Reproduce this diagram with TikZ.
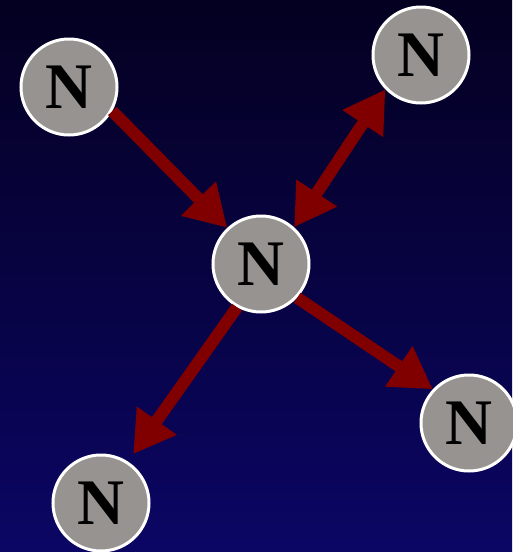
\documentclass[tikz,border=0pt]{standalone}
\usepackage{fontspec}
\setmainfont{Liberation Serif}
\usetikzlibrary{arrows.meta}
\definecolor{bgtop}{HTML}{040020}
\definecolor{bgbottom}{HTML}{0B0664}
\definecolor{nodegray}{HTML}{969391}
\definecolor{arrowred}{HTML}{800000}
\tikzset{
  nnode/.style={circle,fill=nodegray,draw=white,line width=3pt,minimum size=96pt,inner sep=0pt,
    font=\fontsize{65}{65}\selectfont\bfseries},
  link/.style={draw=arrowred,line width=12pt,-{Triangle[length=41pt,width=46pt]}},
  bilink/.style={draw=arrowred,line width=12pt,{Triangle[length=41pt,width=46pt]}-{Triangle[length=41pt,width=46pt]}}
}
\begin{document}
\begin{tikzpicture}[x=1pt,y=-1pt]
  % 背景
  \useasboundingbox (0,0) rectangle (512,552);
  \shade[top color=bgtop,bottom color=bgbottom] (0,0) rectangle (512,552);

  % ノード
  \node[nnode] (tl) at (69,87) {N};
  \node[nnode] (tr) at (421,55) {N};
  \node[nnode] (c) at (261,264) {N};
  \node[nnode] (r) at (469,423) {N};
  \node[nnode] (bl) at (101,503) {N};

  % 矢印
  \draw[link] (tl.-29) -- (c.133);
  \draw[bilink] (c.48) -- (tr.-136);
  \draw[link] (c.-43) -- (r.137);
  \draw[link,shorten >=9pt] (c.-119) -- (bl.57);
\end{tikzpicture}
\end{document}
